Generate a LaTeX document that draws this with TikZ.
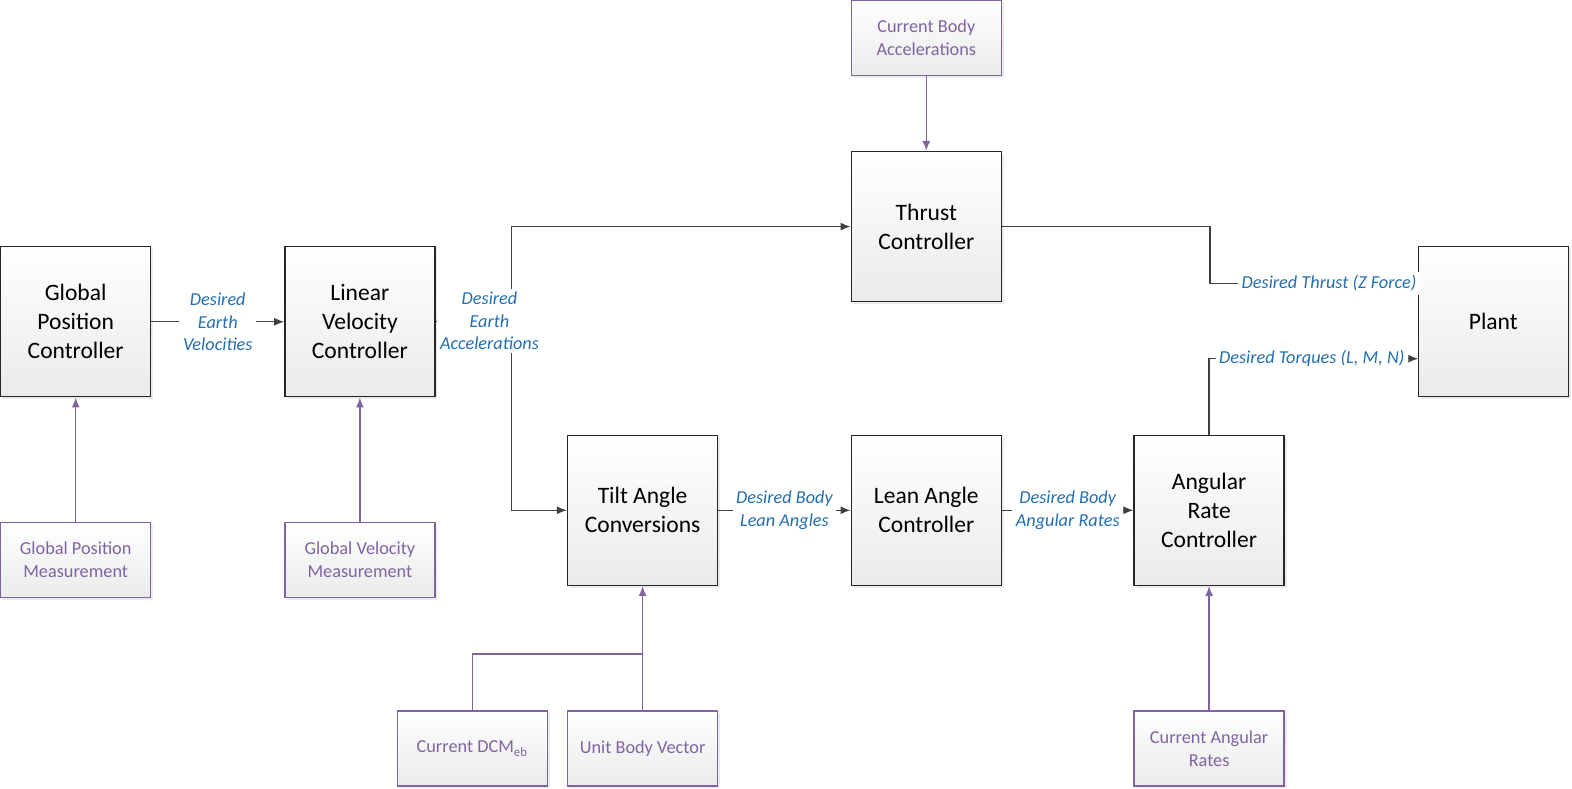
\documentclass[tikz,border=0pt]{standalone}
\usepackage{fontspec}
\setmainfont{Carlito}
\usepackage{xcolor}
\usetikzlibrary{arrows.meta, positioning, shadows, calc}

\definecolor{sigblue}{RGB}{37,111,176}
\definecolor{measpurple}{RGB}{128,100,162}
\definecolor{linegray}{RGB}{64,64,64}

\tikzset{
  ctrl/.style={draw=black!85, line width=0.4pt, top color=white, bottom color=black!8,
    minimum width=1.5cm, minimum height=1.5cm, inner sep=0pt, align=center,
    font=\fontsize{6.7}{8.25}\selectfont,
    drop shadow={shadow xshift=0.025cm, shadow yshift=-0.025cm, fill=black!20, opacity=0.4}},
  measbox/.style={ctrl, draw=measpurple, minimum height=0.75cm, text=measpurple,
    font=\fontsize{5.2}{6.5}\selectfont},
  sig/.style={fill=white, inner sep=1pt, text=sigblue, align=center,
    font=\fontsize{5.2}{6.4}\selectfont\itshape},
  flow/.style={draw=linegray, line width=0.4pt, -{Latex[length=0.1cm, width=0.08cm]}},
  measflow/.style={flow, draw=measpurple},
}

\begin{document}
\begin{tikzpicture}
\useasboundingbox (0,0) rectangle (15.72,7.89);

% Controllers
\node[ctrl] (gpc) at (0.757,4.672) {Global\\Position\\Controller};
\node[ctrl] (lvc) at (3.599,4.672) {Linear\\Velocity\\Controller};
\node[ctrl] (thrust) at (9.263,5.624) {Thrust\\Controller};
\node[ctrl] (plant) at (14.933,4.672) {Plant};
\node[ctrl] (tilt) at (6.426,2.787) {Tilt Angle\\Conversions};
\node[ctrl] (lean) at (9.263,2.787) {Lean Angle\\Controller};
\node[ctrl] (rate) at (12.091,2.787) {Angular\\Rate\\Controller};

% Measurements
\node[measbox] (accel) at (9.263,7.509) {Current Body\\Accelerations};
\node[measbox] (gpm) at (0.757,2.291) {Global Position\\Measurement};
\node[measbox] (gvm) at (3.599,2.291) {Global Velocity\\Measurement};
\node[measbox] (dcm) at (4.727,0.406) {Current DCM\textsubscript{eb}};
\node[measbox] (ubv) at (6.426,0.406) {Unit Body Vector};
\node[measbox] (rates) at (12.091,0.406) {Current Angular\\Rates};

% Signal path
\draw[flow] (gpc) -- node[sig] {Desired\\Earth\\Velocities} (lvc);
\coordinate (split) at (5.113,4.672);
\draw[linegray, line width=0.4pt] (lvc.east) -- (split);
\draw[flow] (split) |- (thrust.west);
\draw[flow] (split) |- (tilt.west);
\node[sig] (acclabel) at (4.895,4.68) {Desired\\Earth\\Accelerations};
\draw[flow] (tilt) -- node[sig] {Desired Body\\Lean Angles} (lean);
\draw[flow] (lean) -- node[sig] {Desired Body\\Angular Rates} (rate);

% Outputs to plant
\coordinate (thrustbend) at (12.10,5.057);
\coordinate (thrustin) at (14.183,5.057);
\draw[flow] (thrust.east) -| (thrustbend) -- (thrustin);
\node[sig] (thrustlabel) at (13.29,5.057) {Desired Thrust (Z Force)};
\coordinate (torquein) at (14.183,4.303);
\draw[flow] (rate.north) |- (torquein);
\node[sig] (torquelabel) at (13.117,4.303) {Desired Torques (L, M, N)};

% Measurement feeds
\draw[measflow] (accel) -- (thrust);
\draw[measflow] (gpm) -- (gpc);
\draw[measflow] (gvm) -- (lvc);
\draw[measflow] (rates) -- (rate);
\coordinate (join) at (6.426,1.35);
\draw[measpurple, line width=0.4pt] (dcm.north) |- (join);
\draw[measflow] (ubv) -- (tilt);
\end{tikzpicture}
\end{document}
